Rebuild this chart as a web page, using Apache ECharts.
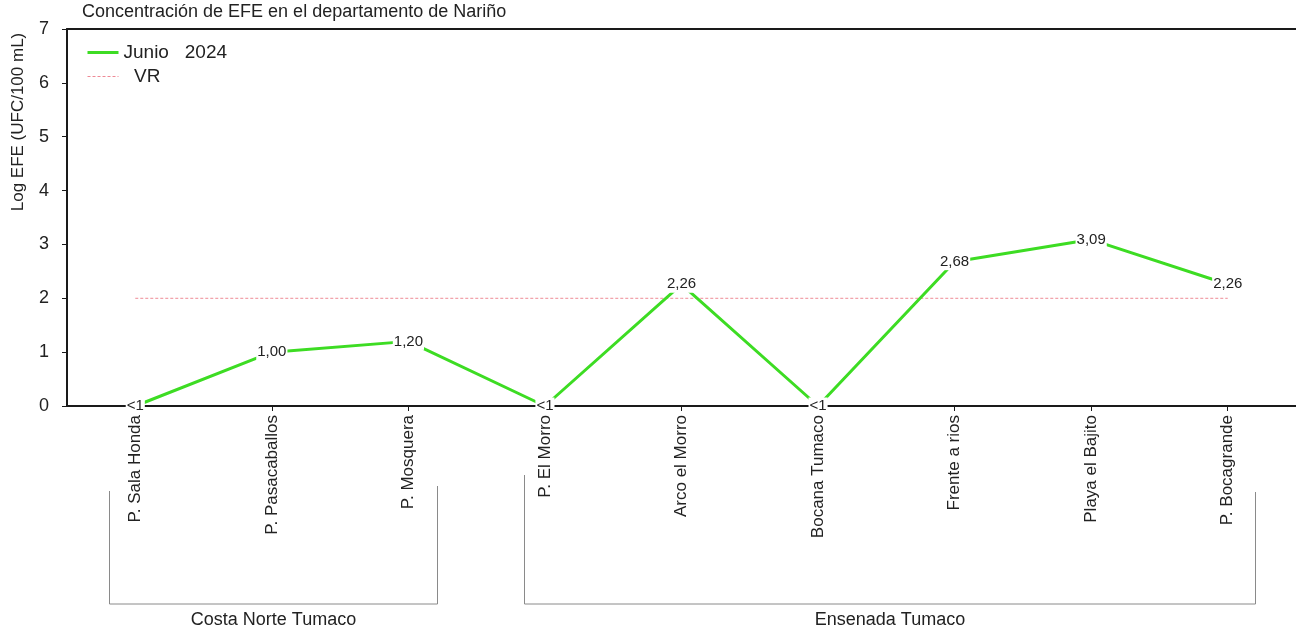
<!DOCTYPE html>
<html><head><meta charset="utf-8">
<script src="https://cdn.jsdelivr.net/npm/echarts@6/dist/echarts.min.js"></script>
<style>html,body{margin:0;padding:0;background:#fff}#main{width:1296px;height:632px}</style>
</head><body><div id="main"></div>
<script>
const chartTitle = 'Concentración de EFE en el departamento de Nariño';
const yAxisName = 'Log EFE (UFC/100 mL)';
const categories = ['P. Sala Honda', 'P. Pasacaballos', 'P. Mosquera', 'P. El Morro', 'Arco el Morro', 'Bocana Tumaco', 'Frente a rios', 'Playa el Bajito', 'P. Bocagrande'];
const seriesName = 'Junio   2024';
const junio2024 = [0, 1.00, 1.20, 0, 2.26, 0, 2.68, 3.09, 2.26];
const vrName = 'VR';
const vrValue = 2;
const groupNames = ['Costa Norte Tumaco', 'Ensenada Tumaco'];
const groupFirst = [0, 3];
const groupLast = [2, 8];
const yMin = 0, yMax = 7, yStep = 1;

const FONT = 'Liberation Sans, Arial, sans-serif';
const TXT = '#222';
const GREEN = '#3ddc23';
const PINK = '#ee8a96';

const chart = echarts.init(document.getElementById('main'), null, {renderer: 'canvas'});
const option = {
  animation: false,
  backgroundColor: '#fff',
  textStyle: {fontFamily: FONT, color: TXT},
  title: {
    text: chartTitle, left: 82, top: 3, padding: 0,
    textStyle: {fontFamily: FONT, fontSize: 18, fontWeight: 'normal', color: TXT}
  },
  legend: {
    orient: 'vertical', left: 86, top: 43, padding: 0,
    itemWidth: 31, itemHeight: 18, itemGap: 5,
    itemStyle: {opacity: 0},
    textStyle: {fontFamily: FONT, fontSize: 19, color: TXT},
    formatter: function (n) { return n === vrName ? '  ' + n : n; },
    data: [
      {name: seriesName, lineStyle: {width: 3}},
      {name: vrName, lineStyle: {width: 1}}
    ]
  },
  grid: {left: 67, right: 0, top: 29, bottom: 226, show: false, containLabel: false},
  xAxis: [{
    type: 'category', data: categories, boundaryGap: true,
    axisLine: {show: true, lineStyle: {color: '#1a1a1a', width: 2}},
    axisTick: {show: true, alignWithLabel: true, length: 5, lineStyle: {color: '#1a1a1a'}},
    axisLabel: {rotate: 90, margin: 9, fontSize: 17, color: TXT, fontFamily: FONT, interval: 0},
    splitLine: {show: false}
  }, {
    type: 'category', data: categories, boundaryGap: true, position: 'top',
    axisLine: {show: true, lineStyle: {color: '#1a1a1a', width: 2}},
    axisTick: {show: false}, axisLabel: {show: false}, splitLine: {show: false}
  }],
  yAxis: {
    type: 'value', min: yMin, max: yMax, interval: yStep,
    axisLine: {show: true, lineStyle: {color: '#1a1a1a', width: 2}},
    axisTick: {show: true, length: 5, lineStyle: {color: '#1a1a1a'}},
    axisLabel: {margin: 18, fontSize: 18, color: TXT, fontFamily: FONT},
    splitLine: {show: false}
  },
  series: [
    {
      name: seriesName, type: 'line', data: junio2024, xAxisIndex: 0,
      symbol: 'circle', symbolSize: 2, z: 5,
      itemStyle: {color: GREEN},
      lineStyle: {color: GREEN, width: 3},
      label: {
        show: true, position: 'inside', fontSize: 15, color: TXT, fontFamily: FONT,
        backgroundColor: '#fff', padding: [1, 1],
        formatter: function (p) { return p.value === 0 ? '<1' : p.value.toFixed(2).replace('.', ','); }
      }
    },
    {
      name: vrName, type: 'line', data: categories.map(function () { return vrValue; }), xAxisIndex: 0,
      symbol: 'none', z: 3,
      itemStyle: {color: PINK},
      lineStyle: {color: PINK, width: 1, type: [3, 2]}
    }
  ]
};
chart.setOption(option);

function drawGroups() {
  const px = function (i) { return chart.convertToPixel({xAxisIndex: 0}, i); };
  const band = px(1) - px(0);
  const padL = [0.19, 0.155];
  const padR = [0.21, 0.2];
  const topL = [491, 475];
  const topR = [486, 492];
  const yBase = 604;
  const els = [];
  groupNames.forEach(function (name, i) {
    const x0 = Math.round(px(groupFirst[i]) - padL[i] * band) + 0.5;
    const x1 = Math.round(px(groupLast[i]) + padR[i] * band) + 0.5;
    const st = {stroke: '#8a8a8a', lineWidth: 1, fill: null};
    els.push({type: 'polyline', silent: true, shape: {points: [[x0, topL[i]], [x0, yBase], [x1, yBase], [x1, topR[i]]]}, style: st});
    els.push({type: 'text', silent: true, x: (x0 + x1) / 2, y: 620,
      style: {text: name, fontSize: 18, fontFamily: FONT, fill: TXT, align: 'center', verticalAlign: 'middle'}});
  });
  els.push({type: 'text', silent: true, x: 18, y: 122, rotation: Math.PI / 2,
    style: {text: yAxisName, fontSize: 17, fontFamily: FONT, fill: TXT, align: 'center', verticalAlign: 'middle'}});
  chart.setOption({graphic: els});
}
drawGroups();
</script>
</body></html>
